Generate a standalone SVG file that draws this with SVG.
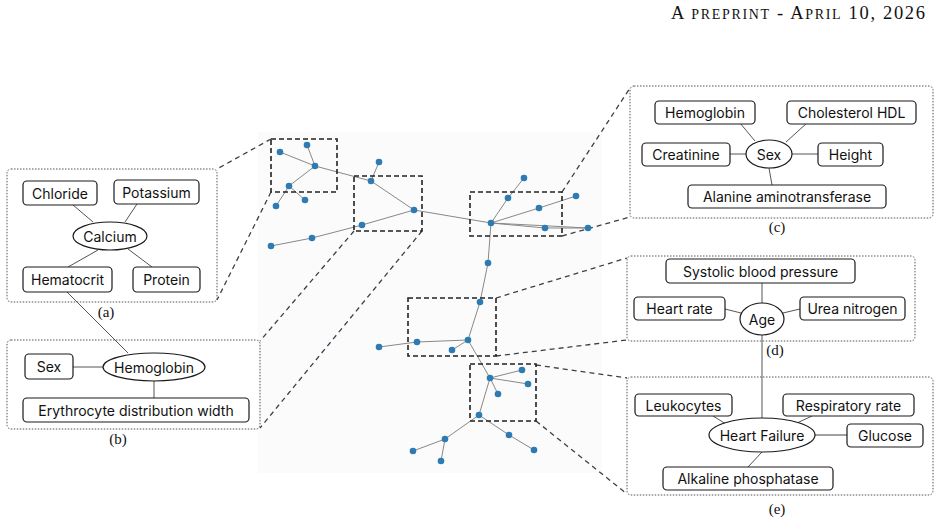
<svg xmlns="http://www.w3.org/2000/svg" width="939" height="521" viewBox="0 0 939 521">
<style>
.bx{fill:#fff;stroke:#1a1a1a;stroke-width:1.2}
.el{fill:#fff;stroke:#1a1a1a;stroke-width:1.2}
.t{font-family:Inter,"Noto Sans","Liberation Sans",sans-serif;font-size:14px;fill:#111;text-anchor:middle;dominant-baseline:central}
.lab{font-family:"Liberation Serif","DejaVu Serif",serif;font-size:15px;fill:#111;text-anchor:middle}
.pn{fill:none;stroke:#555;stroke-width:1;stroke-dasharray:1.5 1.5}
.ie{stroke:#555;stroke-width:1;fill:none}
.ge{stroke:#888;stroke-width:1;fill:none}
.nd{fill:#2e7bb4}
.zb{fill:none;stroke:#222;stroke-width:1.6;stroke-dasharray:5 3}
.zl{stroke:#3a3f4a;stroke-width:1.3;stroke-dasharray:5 4;fill:none}
</style>
<rect width="939" height="521" fill="#fff"/>
<text x="671" y="19" font-family="Liberation Serif,DejaVu Serif,serif" font-size="18.5" fill="#111" textLength="254" lengthAdjust="spacing"><tspan font-size="18.5">A</tspan><tspan font-size="14"> PREPRINT</tspan><tspan font-size="18.5"> - A</tspan><tspan font-size="14">PRIL</tspan><tspan font-size="18.5"> 10, 2026</tspan></text>
<rect x="258" y="132" width="344" height="341" fill="#fbfbfb"/>

<g id="connectors">
<line class="zl" x1="271" y1="139" x2="217" y2="169"/>
<line class="zl" x1="271" y1="192" x2="217" y2="300"/>
<line class="zl" x1="354" y1="231" x2="260" y2="341"/>
<line class="zl" x1="422" y1="231" x2="260" y2="428"/>
<line class="zl" x1="562" y1="192" x2="630" y2="88"/>
<line class="zl" x1="562" y1="236" x2="630" y2="217"/>
<line class="zl" x1="496" y1="298" x2="627" y2="258"/>
<line class="zl" x1="496" y1="356" x2="627" y2="340"/>
<line class="zl" x1="536" y1="365" x2="627" y2="378"/>
<line class="zl" x1="536" y1="421" x2="627" y2="494"/>
<g class="ge">
<line x1="280" y1="152" x2="315" y2="166"/>
<line x1="307" y1="145" x2="315" y2="166"/>
<line x1="315" y1="166" x2="289" y2="186"/>
<line x1="289" y1="186" x2="276" y2="206"/>
<line x1="289" y1="186" x2="305" y2="200"/>
<line x1="315" y1="166" x2="371" y2="181"/>
<line x1="379" y1="162" x2="371" y2="181"/>
<line x1="371" y1="181" x2="414" y2="210"/>
<line x1="414" y1="210" x2="362" y2="225"/>
<line x1="362" y1="225" x2="312" y2="238"/>
<line x1="312" y1="238" x2="271" y2="246"/>
<line x1="414" y1="210" x2="491" y2="223"/>
<line x1="491" y1="223" x2="508" y2="198"/>
<line x1="508" y1="198" x2="524" y2="178"/>
<line x1="491" y1="223" x2="539" y2="208"/>
<line x1="539" y1="208" x2="576" y2="196"/>
<line x1="491" y1="223" x2="545" y2="228"/>
<line x1="545" y1="228" x2="588" y2="228"/>
<line x1="491" y1="223" x2="588" y2="228"/>
<line x1="491" y1="223" x2="488" y2="263"/>
<line x1="488" y1="263" x2="480" y2="302"/>
<line x1="480" y1="302" x2="468" y2="340"/>
<line x1="468" y1="340" x2="417" y2="342"/>
<line x1="417" y1="342" x2="379" y2="347"/>
<line x1="468" y1="340" x2="452" y2="350"/>
<line x1="468" y1="340" x2="490" y2="378"/>
<line x1="490" y1="378" x2="522" y2="370"/>
<line x1="490" y1="378" x2="528" y2="384"/>
<line x1="490" y1="378" x2="498" y2="394"/>
<line x1="490" y1="378" x2="479" y2="415"/>
<line x1="479" y1="415" x2="445" y2="439"/>
<line x1="445" y1="439" x2="413" y2="451"/>
<line x1="445" y1="439" x2="441" y2="461"/>
<line x1="479" y1="415" x2="509" y2="435"/>
<line x1="509" y1="435" x2="534" y2="450"/>
</g>
<g class="ie">
<line x1="73" y1="205" x2="93" y2="222"/>
<line x1="137" y1="204" x2="125" y2="222"/>
<line x1="68" y1="267" x2="98" y2="250"/>
<line x1="152" y1="267" x2="128" y2="249"/>
<line x1="67" y1="292" x2="128" y2="353"/>
<line x1="73" y1="367" x2="103" y2="367"/>
<line x1="154" y1="381" x2="154" y2="398"/>
<line x1="740" y1="123" x2="755" y2="141"/>
<line x1="807" y1="123" x2="786" y2="142"/>
<line x1="730" y1="154" x2="746" y2="154"/>
<line x1="792" y1="154" x2="818" y2="154"/>
<line x1="769" y1="168" x2="772" y2="185"/>
<line x1="762" y1="283" x2="762" y2="303"/>
<line x1="725" y1="309" x2="741" y2="313"/>
<line x1="800" y1="309" x2="783" y2="313"/>
<line x1="762" y1="335" x2="762" y2="418"/>
<line x1="713" y1="416" x2="726" y2="424"/>
<line x1="812" y1="416" x2="797" y2="423"/>
<line x1="815" y1="435" x2="847" y2="435" stroke="#888" stroke-width="1.6"/>
<line x1="762" y1="452" x2="748" y2="467"/>
</g>
</g>

<g id="zoom-boxes">
<rect class="zb" x="271" y="139" width="66" height="53"/>
<rect class="zb" x="354" y="176" width="68" height="55"/>
<rect class="zb" x="470" y="192" width="92" height="44"/>
<rect class="zb" x="408" y="298" width="88" height="58"/>
<rect class="zb" x="470" y="364" width="66" height="57"/>
</g>

<g id="graph-nodes" class="nd">
<circle cx="280" cy="152" r="3.3"/>
<circle cx="307" cy="145" r="3.3"/>
<circle cx="315" cy="166" r="3.3"/>
<circle cx="289" cy="186" r="3.3"/>
<circle cx="276" cy="206" r="3.3"/>
<circle cx="305" cy="200" r="3.3"/>
<circle cx="379" cy="162" r="3.3"/>
<circle cx="371" cy="181" r="3.3"/>
<circle cx="414" cy="210" r="3.3"/>
<circle cx="362" cy="225" r="3.3"/>
<circle cx="312" cy="238" r="3.3"/>
<circle cx="271" cy="246" r="3.3"/>
<circle cx="491" cy="223" r="3.3"/>
<circle cx="508" cy="198" r="3.3"/>
<circle cx="524" cy="178" r="3.3"/>
<circle cx="539" cy="208" r="3.3"/>
<circle cx="576" cy="196" r="3.3"/>
<circle cx="545" cy="228" r="3.3"/>
<circle cx="588" cy="228" r="3.3"/>
<circle cx="488" cy="263" r="3.3"/>
<circle cx="480" cy="302" r="3.3"/>
<circle cx="468" cy="340" r="3.3"/>
<circle cx="417" cy="342" r="3.3"/>
<circle cx="379" cy="347" r="3.3"/>
<circle cx="452" cy="350" r="3.3"/>
<circle cx="490" cy="378" r="3.3"/>
<circle cx="522" cy="370" r="3.3"/>
<circle cx="528" cy="384" r="3.3"/>
<circle cx="498" cy="394" r="3.3"/>
<circle cx="479" cy="415" r="3.3"/>
<circle cx="445" cy="439" r="3.3"/>
<circle cx="413" cy="451" r="3.3"/>
<circle cx="441" cy="461" r="3.3"/>
<circle cx="509" cy="435" r="3.3"/>
<circle cx="534" cy="450" r="3.3"/>
</g>

<g id="panel-a">
<rect class="pn" x="7" y="169" width="210" height="133" rx="4"/>
<text class="lab" x="106" y="317">(a)</text>
</g>
<g id="a-chloride"><rect class="bx" x="23" y="181" width="74" height="24" rx="4"/><text class="t" x="60" y="193">Chloride</text></g>
<g id="a-potassium"><rect class="bx" x="114" y="180" width="85" height="24" rx="4"/><text class="t" x="156.5" y="192">Potassium</text></g>
<g id="a-calcium"><ellipse class="el" cx="110" cy="236" rx="37" ry="14"/><text class="t" x="110" y="236">Calcium</text></g>
<g id="a-hematocrit"><rect class="bx" x="23" y="267" width="89" height="25" rx="4"/><text class="t" x="67.5" y="279.5">Hematocrit</text></g>
<g id="a-protein"><rect class="bx" x="133" y="267" width="67" height="25" rx="4"/><text class="t" x="166.5" y="279.5">Protein</text></g>

<g id="panel-b">
<rect class="pn" x="7" y="340" width="253" height="89" rx="4"/>
<text class="lab" x="118" y="444">(b)</text>
</g>
<g id="b-sex"><rect class="bx" x="25" y="354" width="48" height="25" rx="4"/><text class="t" x="49" y="366.5">Sex</text></g>
<g id="b-hemoglobin"><ellipse class="el" cx="154" cy="367" rx="51" ry="14"/><text class="t" x="154" y="367">Hemoglobin</text></g>
<g id="b-erythrocyte"><rect class="bx" x="23" y="398" width="226" height="24" rx="4"/><text class="t" x="136" y="410">Erythrocyte distribution width</text></g>

<g id="panel-c">
<rect class="pn" x="630" y="86" width="303" height="132" rx="4"/>
<text class="lab" x="777" y="232">(c)</text>
</g>
<g id="c-hemoglobin"><rect class="bx" x="655" y="101" width="100" height="23" rx="4"/><text class="t" x="705" y="112.5">Hemoglobin</text></g>
<g id="c-cholesterol"><rect class="bx" x="787" y="101" width="129" height="23" rx="4"/><text class="t" x="851.5" y="112.5">Cholesterol HDL</text></g>
<g id="c-creatinine"><rect class="bx" x="642" y="143" width="88" height="23" rx="4"/><text class="t" x="686" y="154.5">Creatinine</text></g>
<g id="c-sex"><ellipse class="el" cx="769" cy="154" rx="23" ry="14"/><text class="t" x="769" y="154">Sex</text></g>
<g id="c-height"><rect class="bx" x="818" y="143" width="65" height="23" rx="4"/><text class="t" x="850.5" y="154.5">Height</text></g>
<g id="c-alanine"><rect class="bx" x="688" y="185" width="198" height="23" rx="4"/><text class="t" x="787" y="196.5">Alanine aminotransferase</text></g>

<g id="panel-d">
<rect class="pn" x="627" y="256" width="288" height="85" rx="4"/>
<text class="lab" x="775" y="355">(d)</text>
</g>
<g id="d-systolic"><rect class="bx" x="666" y="259" width="189" height="24" rx="4"/><text class="t" x="760.5" y="271">Systolic blood pressure</text></g>
<g id="d-heartrate"><rect class="bx" x="634" y="297" width="91" height="23" rx="4"/><text class="t" x="679.5" y="308.5">Heart rate</text></g>
<g id="d-age"><ellipse class="el" cx="762" cy="319" rx="22" ry="16"/><text class="t" x="762" y="319">Age</text></g>
<g id="d-urea"><rect class="bx" x="800" y="297" width="105" height="23" rx="4"/><text class="t" x="852.5" y="308.5">Urea nitrogen</text></g>

<g id="panel-e">
<rect class="pn" x="627" y="377" width="306" height="118" rx="4"/>
<text class="lab" x="777" y="514">(e)</text>
</g>
<g id="e-leukocytes"><rect class="bx" x="635" y="394" width="97" height="22" rx="4"/><text class="t" x="683.5" y="405">Leukocytes</text></g>
<g id="e-respiratory"><rect class="bx" x="783" y="394" width="131" height="22" rx="4"/><text class="t" x="848.5" y="405">Respiratory rate</text></g>
<g id="e-heartfailure"><ellipse class="el" cx="762" cy="435" rx="53" ry="17"/><text class="t" x="762" y="435">Heart Failure</text></g>
<g id="e-glucose"><rect class="bx" x="847" y="424" width="76" height="23" rx="4"/><text class="t" x="885" y="435.5">Glucose</text></g>
<g id="e-alkaline"><rect class="bx" x="663" y="467" width="170" height="23" rx="4"/><text class="t" x="748" y="478.5">Alkaline phosphatase</text></g>
</svg>
